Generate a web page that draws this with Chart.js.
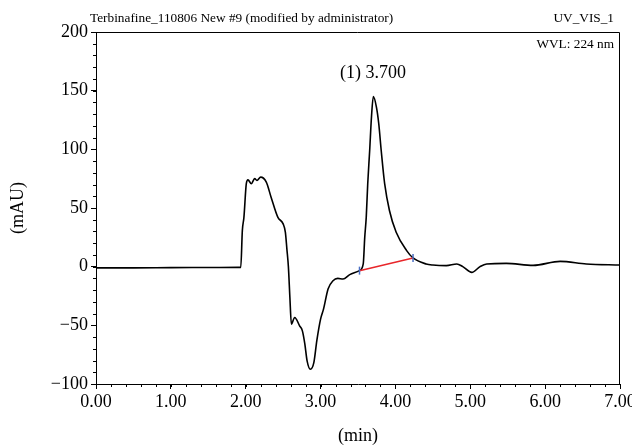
<!DOCTYPE html>
<html>
<head>
<meta charset="utf-8">
<script src="https://cdn.jsdelivr.net/npm/chart.js@4/dist/chart.umd.min.js"></script>
<style>
  html, body { margin: 0; padding: 0; background: #fff; }
  #wrap { width: 632px; height: 446px; }
</style>
</head>
<body>
<div id="wrap"><canvas id="myChart" width="632" height="446"></canvas></div>
<script>
// data block
const times = [0, 0.5, 1.0, 1.5, 1.9, 1.934, 1.955, 1.976, 2.008, 2.03, 2.075, 2.12, 2.15, 2.2,
  2.275, 2.34, 2.43, 2.50, 2.53, 2.55, 2.57, 2.59, 2.61, 2.654, 2.72, 2.757, 2.79, 2.82, 2.864,
  2.91, 2.95, 3.0, 3.04, 3.10, 3.166, 3.23, 3.30, 3.39, 3.52, 3.57, 3.59, 3.61, 3.63, 3.656,
  3.68, 3.705, 3.746, 3.777, 3.81, 3.856, 3.92, 4.01, 4.15, 4.235, 4.41, 4.5, 4.68, 4.82, 4.9,
  5.02, 5.13, 5.22, 5.48, 5.84, 6.2, 6.55, 7.0];
const signal = [-1, -1, -0.8, -0.7, -0.6, -0.6, 30.8, 42, 70.7, 74, 70.7, 75, 73.5, 76.3,
  72, 59, 42, 36.5, 29.3, 15, 0, -26, -49, -43.3, -50.4, -54.7, -66, -80.3, -87.4,
  -81.8, -63, -44.7, -36, -19, -12, -10, -10.5, -6.8, -3.4, 2.3, 25, 42, 70.7, 99,
  127.6, 145, 136, 122, 99, 70.7, 47.9, 29.3, 13.7, 7.4, 2.3, 1.4, 0.9, 2.3, 0,
  -4.9, 0, 2.3, 2.8, 1.1, 4.5, 2.3, 1.4];
const baseTimes = [3.52, 4.235];
const baseValues = [-3.4, 7.4];
const peakTime = 3.70;
const peakLabel = '(1) 3.700';
const peakLabelY = 165;
const xTicks = [0, 1, 2, 3, 4, 5, 6, 7];
const yTicks = [-100, -50, 0, 50, 100, 150, 200];

const serif = "'Liberation Serif', 'DejaVu Serif', serif";

const chromPlugin = {
  id: 'chrom',
  afterDraw(chart) {
    const { ctx, chartArea: a, scales: { x, y } } = chart;
    ctx.save();
    ctx.strokeStyle = '#000';
    ctx.lineWidth = 1;
    // frame top and right
    ctx.beginPath();
    ctx.moveTo(a.left, a.top + 0.5);
    ctx.lineTo(a.right - 0.5, a.top + 0.5);
    ctx.lineTo(a.right - 0.5, a.bottom);
    ctx.stroke();
    // minor ticks
    ctx.beginPath();
    for (let v = 0; v <= 7.0001; v += 0.2) {
      const px = Math.round(x.getPixelForValue(v)) + 0.5;
      ctx.moveTo(px, a.bottom);
      ctx.lineTo(px, a.bottom + 3);
    }
    for (let v = -100; v <= 200; v += 10) {
      const py = Math.round(y.getPixelForValue(v)) + 0.5;
      ctx.moveTo(a.left, py);
      ctx.lineTo(a.left - 3, py);
    }
    ctx.stroke();
    // texts
    ctx.fillStyle = '#000';
    ctx.font = '13.3px ' + serif;
    ctx.textBaseline = 'middle';
    ctx.textAlign = 'left';
    ctx.fillText('Terbinafine_110806 New #9 (modified by administrator)', a.left - 6, 19);
    ctx.textAlign = 'right';
    ctx.fillText('UV_VIS_1', a.right - 6, 19);
    ctx.fillText('WVL: 224 nm', a.right - 6, 45);
    ctx.font = '18px ' + serif;
    ctx.textAlign = 'center';
    ctx.fillText(peakLabel, x.getPixelForValue(peakTime), y.getPixelForValue(peakLabelY));
    ctx.restore();
  }
};

const data = {
  datasets: [{
    label: 'UV_VIS_1',
    data: times.map((t, i) => ({ x: t, y: signal[i] })),
    borderColor: '#000',
    borderWidth: 1.6,
    pointRadius: 0,
    cubicInterpolationMode: 'monotone',
    order: 2
  }, {
    label: 'baseline',
    data: baseTimes.map((t, i) => ({ x: t, y: baseValues[i] })),
    borderColor: '#e8262a',
    borderWidth: 1.5,
    pointRadius: 4,
    pointStyle: 'line',
    rotation: 90,
    pointBorderColor: '#4a6fc4',
    pointBorderWidth: 1.5,
    order: 1
  }]
};

const config = {
  type: 'line',
  data: data,
  options: {
    responsive: false,
    animation: false,
    devicePixelRatio: 1,
    layout: { padding: { top: 32, right: 12, left: 0, bottom: 0 } },
    plugins: {
      legend: { display: false },
      tooltip: { enabled: false }
    },
    scales: {
      x: {
        type: 'linear',
        min: 0,
        max: 7,
        afterBuildTicks: s => { s.ticks = xTicks.map(v => ({ value: v })); },
        afterFit: s => { s.height = 62; s.paddingLeft = 0; s.paddingRight = 0; },
        border: { color: '#000', width: 1 },
        grid: { drawOnChartArea: false, tickLength: 5, color: '#000' },
        ticks: {
          color: '#000',
          padding: 2,
          maxRotation: 0,
          font: { family: serif, size: 18 },
          callback: v => v.toFixed(2)
        },
        title: {
          display: true,
          text: '(min)',
          color: '#000',
          padding: { top: 0, bottom: -1 },
          font: { family: serif, size: 18 }
        }
      },
      y: {
        min: -100,
        max: 200,
        afterBuildTicks: s => { s.ticks = yTicks.map(v => ({ value: v })); },
        afterFit: s => { s.width = 96; s.paddingTop = 0; s.paddingBottom = 0; },
        border: { color: '#000', width: 1 },
        grid: { drawOnChartArea: false, tickLength: 5, color: '#000' },
        ticks: {
          color: '#000',
          padding: 3,
          font: { family: serif, size: 18 },
          callback: v => v < 0 ? '\u2212' + Math.abs(v) : String(v)
        },
        title: {
          display: true,
          text: '(mAU)',
          color: '#000',
          padding: { top: 7, bottom: 6 },
          font: { family: serif, size: 18 }
        }
      }
    }
  },
  plugins: [chromPlugin]
};

// init render block
const myChart = new Chart(
  document.getElementById('myChart'),
  config
);
</script>
</body>
</html>
